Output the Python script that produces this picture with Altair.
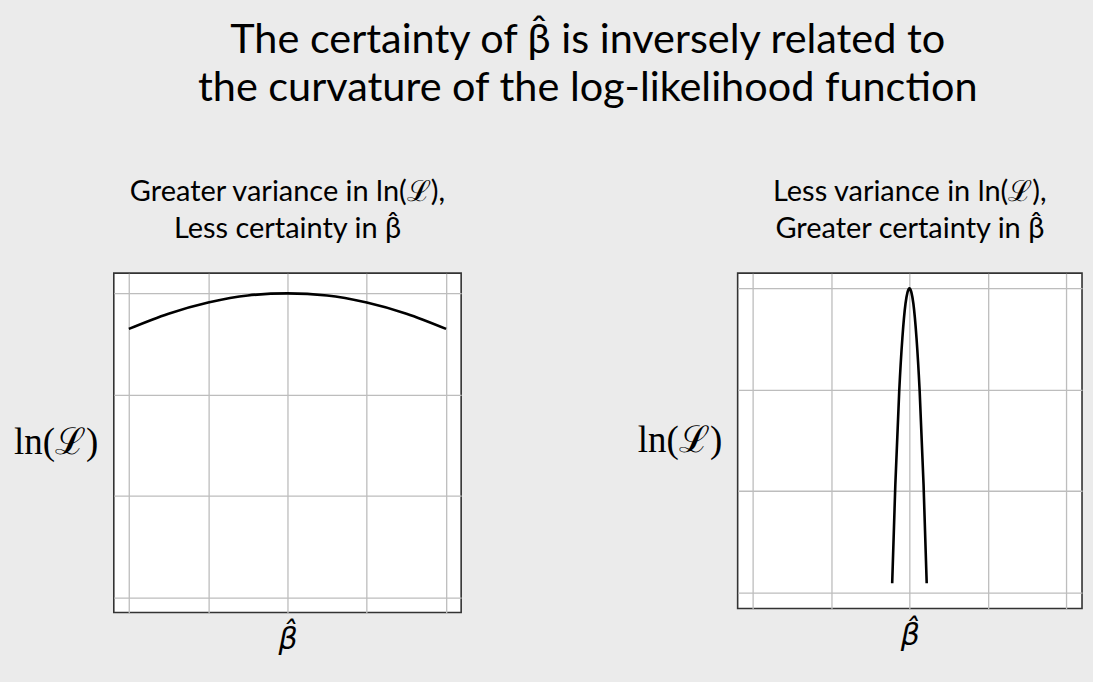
import altair as alt
import pandas as pd

# --- data ---
left_x = [-2.0, -1.5, -1.0, -0.5, 0.0, 0.5, 1.0, 1.5, 2.0]
left_y = [2.65, 2.80, 2.91, 2.98, 3.00, 2.98, 2.91, 2.80, 2.65]

right_x = [-0.22, -0.18, -0.13, -0.09, -0.05, -0.025, 0.0, 0.025, 0.05, 0.09, 0.13, 0.18, 0.22]
right_y = [0.09, 1.06, 1.99, 2.51, 2.85, 2.96, 3.00, 2.96, 2.85, 2.51, 1.99, 1.06, 0.09]

x_grid = [-2, -1, 0, 1, 2]
y_grid = [0, 1, 2, 3]

main_title = ["The certainty of β̂ is inversely related to",
              "the curvature of the log-likelihood function"]
left_title = ["Greater variance in ln(ℒ),", "Less certainty in β̂"]
right_title = ["Less variance in ln(ℒ),", "Greater certainty in β̂"]
x_label = "β̂"
y_label = "ln(ℒ)"

SANS = "Lato"
SERIF = "Liberation Serif"
GRID = "#bdbdbd"


def panel(xs, ys, title_lines, xdom, ydom, w, h):
    df = pd.DataFrame({"x": xs, "y": ys})
    return alt.Chart(
        df,
        title=alt.Title(title_lines, font=SANS, fontSize=29, fontWeight="normal",
                        color="black", anchor="middle", frame="group",
                        lineHeight=37, offset=29),
    ).mark_line(color="black", strokeWidth=2.6, interpolate="monotone").encode(
        x=alt.X("x:Q",
                scale=alt.Scale(domain=xdom, nice=False, zero=False),
                axis=alt.Axis(values=x_grid, labels=False, ticks=False, domain=False,
                              grid=True, gridColor=GRID, gridWidth=1.3,
                              title=x_label, titleFont="DejaVu Sans", titleFontSize=30,
                              titleFontStyle="italic", titleFontWeight="normal",
                              titleColor="black", titlePadding=12)),
        y=alt.Y("y:Q",
                scale=alt.Scale(domain=ydom, nice=False, zero=False),
                axis=alt.Axis(values=y_grid, labels=False, ticks=False, domain=False,
                              grid=True, gridColor=GRID, gridWidth=1.3,
                              title=y_label, titleFont=SERIF, titleFontSize=37,
                              titleFontWeight="normal", titleColor="black",
                              titleAngle=0, titleAlign="right", titleBaseline="middle",
                              titleX=-16, titleY=h / 2)),
    ).properties(width=w, height=h)


left = panel(left_x, left_y, left_title, [-2.19, 2.19], [-0.15, 3.2], 348, 340)
right = panel(right_x, right_y, right_title, [-2.19, 2.2], [-0.16, 3.15], 345, 336)

chart = alt.hconcat(left, right, spacing=174).properties(
    title=alt.Title(main_title, font=SANS, fontSize=41.5, fontWeight="normal",
                    color="black", anchor="middle", lineHeight=48, offset=68, dx=40),
    background="#ebebeb",
    padding={"left": 12, "top": 19, "right": 10, "bottom": 36},
).configure_view(
    fill="white", stroke="#333333", strokeWidth=1.6
)

chart.save("out.html", embed_options={"renderer": "svg", "actions": False})
